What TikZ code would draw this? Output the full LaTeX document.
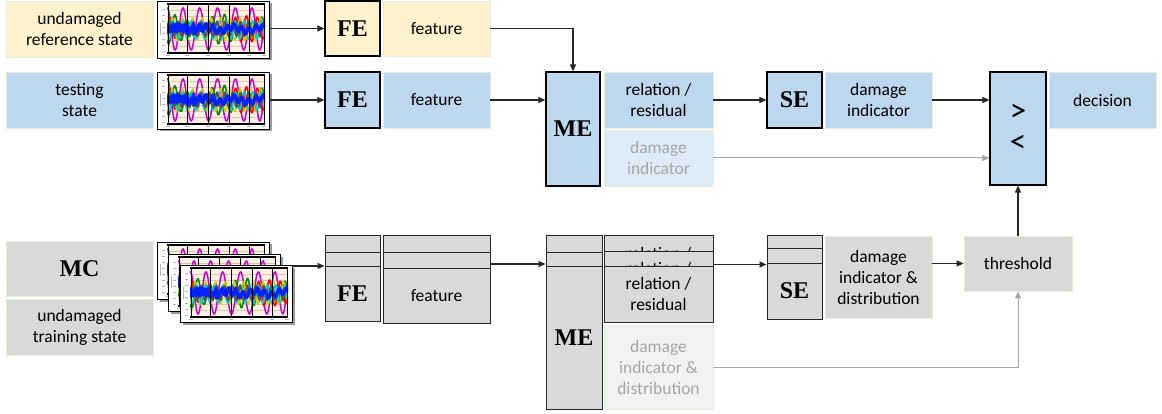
\documentclass[tikz,border=0pt]{standalone}
\usepackage{fontspec}
\setmainfont{Carlito}
\newfontfamily\serifblk{Liberation Serif}
\usetikzlibrary{arrows.meta}
\definecolor{yel}{HTML}{FFF2CC}
\definecolor{blu}{HTML}{BDD7EE}
\definecolor{blulight}{HTML}{DEEBF7}
\definecolor{gry}{HTML}{D9D9D9}
\definecolor{grylight}{HTML}{F2F2F2}
\definecolor{bordgreen}{HTML}{E2EFDA}
\definecolor{fadetext}{HTML}{A6A6A6}
\definecolor{conngray}{HTML}{A6A6A6}
\definecolor{plotbg}{HTML}{FBF1E3}
\definecolor{gridbrown}{HTML}{D8C8B0}
\definecolor{pmag}{HTML}{CC00CC}
\definecolor{pgreen}{HTML}{008A00}
\definecolor{pred}{HTML}{FF0000}
\definecolor{pyel}{HTML}{CCCC00}
\definecolor{pcyan}{HTML}{00CCDD}
\definecolor{pgray}{HTML}{555555}
\definecolor{pblue}{HTML}{0022FF}
\newcommand\lblsize{\fontsize{17.5}{21}\selectfont}
\newcommand\blksize{\serifblk\bfseries\fontsize{24}{28}\selectfont}
\newcommand\cmpsize{\fontsize{33}{31}\selectfont}
\newcommand\drawminiplot[1]{%
\begin{scope}[shift={(#1.north west)}]
 \fill[black!40] (2.5,2.5) rectangle (114.5,59.5);
 \filldraw[fill=white,draw=black,line width=0.8pt] (0,0) rectangle (112,57);
 \fill[plotbg] (10,3) rectangle (108,52);
 \foreach \yy in {9,15,21,27,33,39,45}{\draw[gridbrown,line width=0.4pt] (10,\yy) -- (108,\yy);}
 \begin{scope}
  \clip (10,3) rectangle (108,52);
  \draw[pmag,line width=1.5pt] plot[domain=10:108,samples=160] (\x,{28+21*sin(22*\x+20+40*sin(3*\x))});
  \draw[pgreen,line width=1.6pt] plot[domain=10:108,samples=160] (\x,{28+15*sin(29*\x+110)*(0.7+0.3*sin(7*\x))});
  \draw[pred,line width=1.6pt] plot[domain=10:108,samples=160] (\x,{28+13*sin(33*\x+200)*(0.6+0.4*cos(4*\x))});
  \draw[pyel,line width=1.5pt] plot[domain=10:108,samples=160] (\x,{28+11*sin(37*\x+60+30*cos(5*\x))});
  \draw[pcyan,line width=1.5pt] plot[domain=10:108,samples=160] (\x,{29+9*sin(41*\x+300)});
  \draw[pgray,line width=2pt] plot[domain=10:108,samples=160] (\x,{28+7*sin(46*\x+30)});
  \draw[pblue,line width=3.5pt] plot[domain=10:108,samples=160] (\x,{28+3*sin(50*\x)+2*sin(13*\x)});
  \draw[pblue,line width=2.5pt] plot[domain=10:60,samples=80] (\x,{27+4*sin(55*\x+90)});
 \end{scope}
 \foreach \xx in {11,30,51,72,92,107}{\draw[black,line width=1pt] (\xx,3) -- (\xx,52);}
 \draw[black,line width=1.2pt] (10,3) -- (108,3) (10,52) -- (108,52);
 \foreach \yy in {8,14,...,50}{\draw[black!30,line width=0.5pt] (5,\yy) -- (8,\yy);}
 \draw[black!30,line width=0.5pt] (3,22) -- (3,34);
 \foreach \xx in {11,30,51,72,92,107}{\draw[black!30,line width=0.5pt] (\xx-2,54.5) -- (\xx+2,54.5);}
\end{scope}}
\tikzset{
 lbl/.style={rectangle,inner sep=0pt,align=center,font=\lblsize,draw=bordgreen,line width=0.8pt},
 blk/.style={rectangle,inner sep=0pt,align=center,font=\blksize,draw=black,line width=1.2pt},
 stk/.style={rectangle,inner sep=0pt,align=center,font=\lblsize,draw=black!85,line width=1pt,fill=gry},
 plotbox/.style={rectangle,inner sep=0pt,outer sep=0pt,minimum width=112pt,minimum height=57pt},
 arr/.style={draw=black!85,line width=1.1pt,-{Triangle[length=7pt,width=6pt]}},
 garr/.style={draw=conngray,line width=1pt,-{Triangle[length=7pt,width=6pt]}},
}
\begin{document}
\begin{tikzpicture}[x=1pt,y=-1pt]
\useasboundingbox (0,0) rectangle (1162,414);
% ---- top row
\node[lbl,fill=yel,minimum width=147pt,minimum height=56pt] (ref) at (79.5,29) {undamaged\\reference state};
\node[plotbox] (p1) at (213,29.5) {};
\drawminiplot{p1}
\node[blk,fill=yel,minimum width=55pt,minimum height=55pt] (fe1) at (352.5,28.5) {FE};
\node[lbl,fill=yel,minimum width=107pt,minimum height=55pt] (feat1) at (436.5,28.5) {feature};
% ---- second row
\node[lbl,fill=blu,minimum width=147pt,minimum height=56pt] (test) at (79.5,100) {testing\\state};
\node[plotbox] (p2) at (213,100.5) {};
\drawminiplot{p2}
\node[blk,fill=blu,minimum width=55pt,minimum height=56pt] (fe2) at (352.5,100) {FE};
\node[lbl,fill=blu,minimum width=107pt,minimum height=56pt] (feat2) at (436.5,100) {feature};
\node[blk,fill=blu,minimum width=54pt,minimum height=114pt] (me1) at (573,129) {ME};
\node[lbl,fill=blu,minimum width=109pt,minimum height=56pt] (rel1) at (658.5,100) {relation /\\residual};
\node[lbl,fill=blulight,text=fadetext,minimum width=109pt,minimum height=56pt] (di1) at (658.5,158) {damage\\indicator};
\node[blk,fill=blu,minimum width=55pt,minimum height=56pt] (se1) at (794.5,100) {SE};
\node[lbl,fill=blu,minimum width=107pt,minimum height=56pt] (dind) at (878.5,100) {damage\\indicator};
\node[blk,fill=blu,minimum width=56pt,minimum height=113pt,font=\cmpsize] (cmp) at (1018,128.5) {>\\<};
\node[lbl,fill=blu,minimum width=107pt,minimum height=56pt] (dec) at (1102.5,100) {decision};
% ---- bottom
\node[lbl,fill=gry,minimum width=147pt,minimum height=55pt,font=\blksize] (mc) at (79.5,268.5) {MC};
\node[lbl,fill=gry,minimum width=147pt,minimum height=56pt] (train) at (79.5,327) {undamaged\\training state};
\node[plotbox] (pa) at (213,270.5) {};
\drawminiplot{pa}
\node[plotbox] (pb) at (224,282.5) {};
\drawminiplot{pb}
\node[plotbox] (pc) at (236,293.5) {};
\drawminiplot{pc}
% FE stack (back layers: their text is hidden)
\node[stk,minimum width=55pt,minimum height=55pt] (fea) at (352.5,263.5) {};
\node[stk,minimum width=55pt,minimum height=55pt] (feb) at (352.5,280.5) {};
\node[stk,font=\blksize,minimum width=55pt,minimum height=55pt] (fe3) at (352.5,293.5) {FE};
% feature stack
\node[stk,minimum width=107pt,minimum height=55pt] (feata) at (436.5,263.5) {};
\node[stk,minimum width=107pt,minimum height=55pt] (featb) at (436.5,280.5) {};
\node[stk,minimum width=107pt,minimum height=55pt] (feat3) at (436.5,295.5) {feature};
% ME stack
\node[stk,minimum width=56pt,minimum height=143pt] (mea) at (574,307.5) {};
\node[stk,minimum width=56pt,minimum height=143pt] (meb) at (574,324.5) {};
\node[stk,font=\blksize,minimum width=56pt,minimum height=143pt] (me3) at (574,337.5) {ME};
% relation stack
\node[stk,minimum width=109pt,minimum height=55.5pt] (rela) at (658.5,263.75) {relation /\\residual};
\node[stk,minimum width=109pt,minimum height=55.5pt] (relb) at (658.5,279.25) {relation /\\residual};
\node[stk,minimum width=109pt,minimum height=55.5pt] (rel3) at (658.5,294.25) {relation /\\residual};
\node[lbl,fill=grylight,text=fadetext,minimum width=109pt,minimum height=84pt] (di3) at (658.5,367) {damage\\indicator \&\\distribution};
% SE stack
\node[stk,minimum width=55pt,minimum height=56pt] (sea) at (794.5,264) {};
\node[stk,minimum width=55pt,minimum height=56pt] (seb) at (794.5,277) {};
\node[stk,font=\blksize,minimum width=55pt,minimum height=56pt] (se3) at (794.5,291) {SE};
\node[lbl,fill=gry,minimum width=107pt,minimum height=82pt] (did3) at (878.5,277) {damage\\indicator \&\\distribution};
\node[lbl,fill=gry,minimum width=108pt,minimum height=55pt] (thr) at (1018,263.5) {threshold};
% ---- connectors
\draw[arr] (p1.east |- fe1.west) -- (fe1.west);
\draw[arr] (feat1.east) -| (me1.north);
\draw[arr] (p2.east |- fe2.west) -- (fe2.west);
\draw[arr] (feat2.east) -- (feat2.east -| me1.west);
\draw[arr] (rel1.east) -- (se1.west);
\draw[arr] (dind.east) -- (dind.east -| cmp.west);
\draw[garr] (di1.east) -- (di1.east -| cmp.west);
\draw[arr] (thr.north) -- (cmp.south);
\draw[arr] ([yshift=-1pt]pc.north east) -- ([yshift=-1pt]pc.north east -| fe3.west);
\draw[arr] (feat3.east |- 0,264) -- (me3.west |- 0,264);
\draw[arr] (rel3.east |- 0,264.5) -- (se3.west |- 0,264.5);
\draw[arr] (did3.east |- thr.west) -- (thr.west);
\draw[garr] (di3.east) -| (thr.south);
\end{tikzpicture}
\end{document}
